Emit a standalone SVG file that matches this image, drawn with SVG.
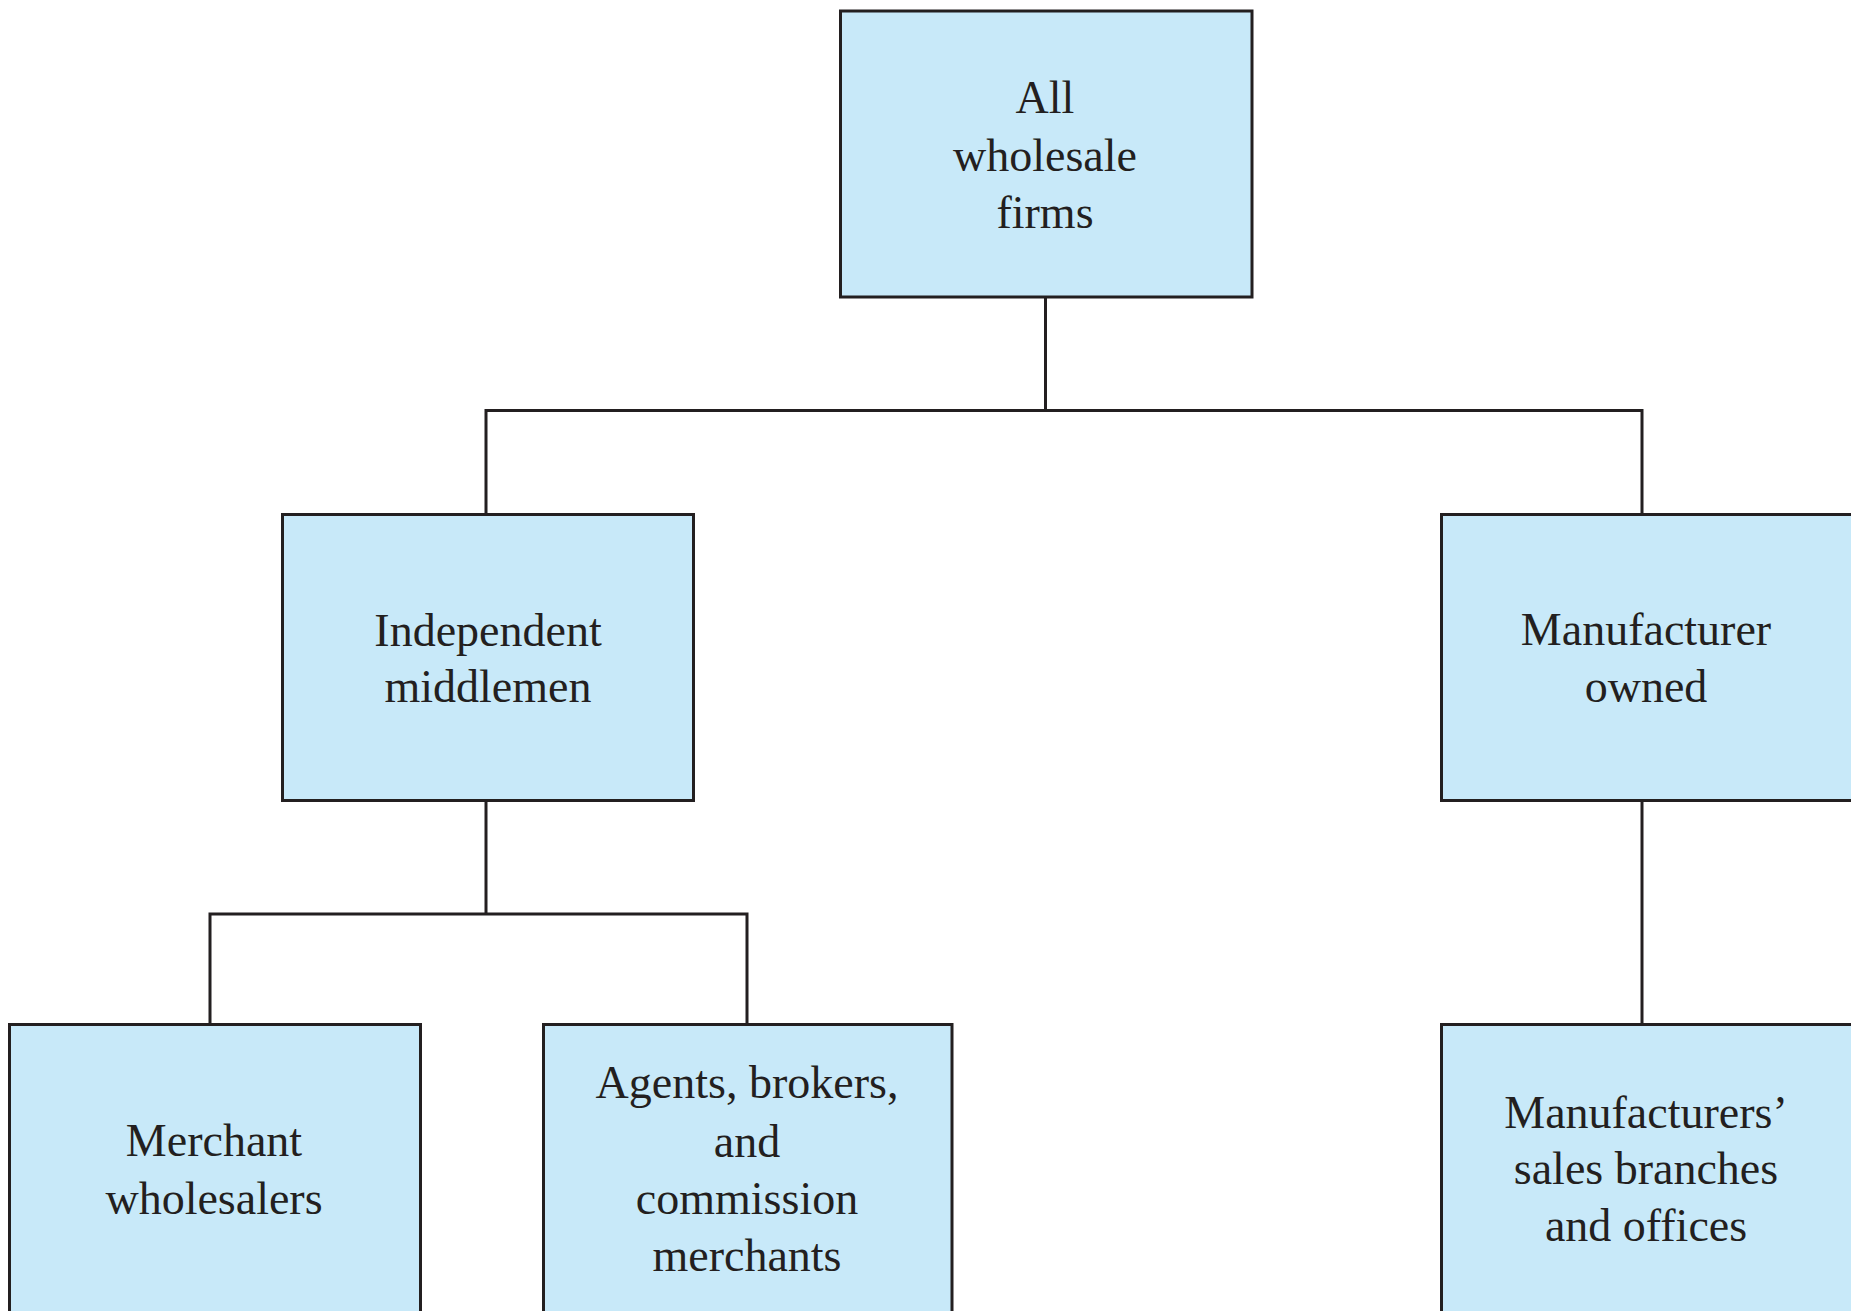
<svg xmlns="http://www.w3.org/2000/svg" width="1851" height="1311" viewBox="0 0 1851 1311">
<style>
.box{fill:#c8e9f9;stroke:#231f20;stroke-width:3}
.lbl{font-family:"Liberation Serif","Times New Roman",serif;font-size:46px;fill:#231f20;text-anchor:middle}
.conn{fill:none;stroke:#231f20;stroke-width:3}
</style>
<rect width="1851" height="1311" fill="#ffffff"/>
<g id="connectors">
<path class="conn" d="M1045.5 297 V410.5"/>
<path class="conn" d="M486 515 V410.5 H1642 V515"/>
<path class="conn" d="M486 800 V914"/>
<path class="conn" d="M210 1024 V914 H747 V1024"/>
<path class="conn" d="M1642 800 V1028"/>
</g>
<g id="node-all">
<rect class="box" x="840.5" y="11" width="411.5" height="286"/>
<text class="lbl" x="1045" y="113">All</text>
<text class="lbl" x="1045" y="171">wholesale</text>
<text class="lbl" x="1045" y="228">firms</text>
</g>
<g id="node-independent">
<rect class="box" x="282.5" y="514.5" width="411" height="286"/>
<text class="lbl" x="488" y="646">Independent</text>
<text class="lbl" x="488" y="702">middlemen</text>
</g>
<g id="node-manufacturer">
<rect class="box" x="1441.5" y="514.5" width="412" height="286"/>
<text class="lbl" x="1646" y="645">Manufacturer</text>
<text class="lbl" x="1646" y="702">owned</text>
</g>
<g id="node-merchant">
<rect class="box" x="9.5" y="1024.5" width="411" height="300"/>
<text class="lbl" x="214" y="1156">Merchant</text>
<text class="lbl" x="214" y="1214">wholesalers</text>
</g>
<g id="node-agents">
<rect class="box" x="543.5" y="1024.5" width="408.5" height="300"/>
<text class="lbl" x="747" y="1098">Agents, brokers,</text>
<text class="lbl" x="747" y="1157">and</text>
<text class="lbl" x="747" y="1214">commission</text>
<text class="lbl" x="747" y="1271">merchants</text>
</g>
<g id="node-branches">
<rect class="box" x="1441.5" y="1024.5" width="412" height="300"/>
<text class="lbl" x="1646" y="1128">Manufacturers’</text>
<text class="lbl" x="1646" y="1184">sales branches</text>
<text class="lbl" x="1646" y="1241">and offices</text>
</g>
</svg>
